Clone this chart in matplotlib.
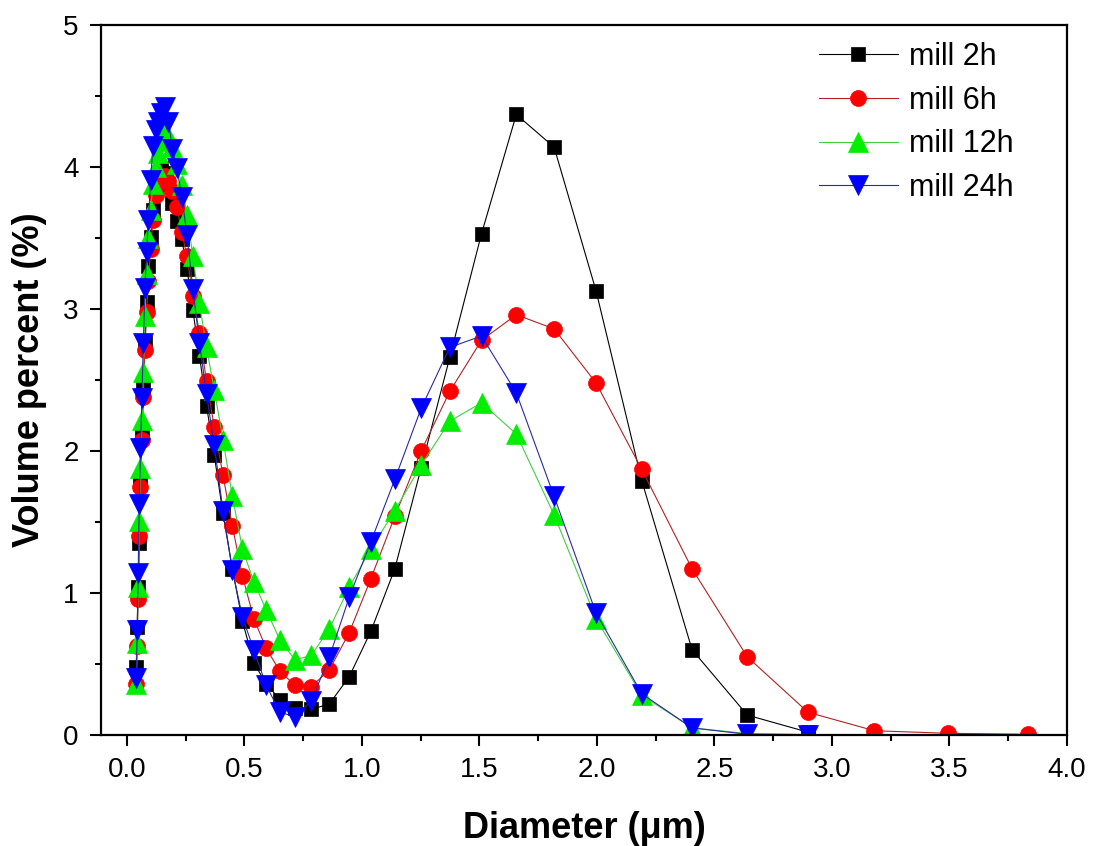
import matplotlib
matplotlib.use("Agg")
import matplotlib.pyplot as plt
from matplotlib.ticker import MultipleLocator

plt.rcParams['font.family'] = ['Liberation Sans', 'DejaVu Sans']

# Particle diameters (um), common grid of the size analyser
diameter = [0.040, 0.044, 0.048, 0.053, 0.058, 0.064, 0.070, 0.077, 0.084, 0.092,
            0.101, 0.111, 0.122, 0.134, 0.147, 0.161, 0.177, 0.194, 0.213, 0.234,
            0.256, 0.281, 0.309, 0.339, 0.372, 0.409, 0.449, 0.492, 0.540, 0.593,
            0.651, 0.715, 0.785, 0.862, 0.946, 1.038, 1.140, 1.252, 1.374, 1.509,
            1.657, 1.818, 1.996, 2.191, 2.405, 2.640, 2.898, 3.181, 3.492, 3.834]

mill_2h = [0.48, 0.76, 1.04, 1.35, 1.77, 2.12, 2.45, 2.76, 3.05, 3.30,
           3.51, 3.70, 3.85, 3.95, 3.99, 3.96, 3.88, 3.75, 3.62, 3.49,
           3.28, 2.99, 2.67, 2.32, 1.97, 1.56, 1.17, 0.80, 0.51, 0.36,
           0.25, 0.19, 0.18, 0.22, 0.41, 0.73, 1.17, 1.88, 2.66, 3.53,
           4.37, 4.14, 3.13, 1.79, 0.60, 0.14, 0.02]

mill_6h = [0.36, 0.63, 0.96, 1.40, 1.75, 2.08, 2.38, 2.71, 2.98, 3.20,
           3.42, 3.63, 3.80, 3.89, 3.93, 3.94, 3.90, 3.83, 3.72, 3.54,
           3.37, 3.09, 2.83, 2.49, 2.17, 1.83, 1.47, 1.12, 0.82, 0.61,
           0.45, 0.35, 0.34, 0.46, 0.72, 1.10, 1.54, 2.00, 2.42, 2.78,
           2.96, 2.86, 2.48, 1.87, 1.17, 0.55, 0.16, 0.03, 0.012, 0.005]

mill_12h = [0.36, 0.65, 1.04, 1.51, 1.88, 2.22, 2.56, 2.95, 3.25, 3.50,
            3.70, 3.88, 4.00, 4.10, 4.18, 4.24, 4.22, 4.14, 4.02, 3.87,
            3.66, 3.37, 3.04, 2.73, 2.43, 2.08, 1.68, 1.31, 1.08, 0.88,
            0.67, 0.53, 0.56, 0.75, 1.04, 1.31, 1.58, 1.90, 2.21, 2.34,
            2.12, 1.55, 0.82, 0.28, 0.05, 0.01, 0.003]

mill_24h = [0.40, 0.74, 1.14, 1.63, 2.02, 2.37, 2.76, 3.15, 3.40, 3.63,
            3.91, 4.15, 4.26, 4.32, 4.38, 4.42, 4.32, 4.13, 3.99, 3.79,
            3.52, 3.14, 2.76, 2.40, 2.04, 1.58, 1.16, 0.83, 0.60, 0.35,
            0.16, 0.13, 0.24, 0.55, 0.97, 1.36, 1.80, 2.30, 2.73, 2.81,
            2.41, 1.68, 0.86, 0.29, 0.05, 0.005, 0.003]

labels = ['mill 2h', 'mill 6h', 'mill 12h', 'mill 24h']

fig = plt.figure(figsize=(10.93, 8.46), dpi=100)
ax = fig.add_axes([0.0924, 0.1312, 0.8838, 0.8392])

styles = [
    dict(marker='s', color='#000000', mfc='#000000', ms=10.5),
    dict(marker='o', color='#b22222', mfc='#ff0000', ms=11.5),
    dict(marker='^', color='#44cc44', mfc='#00ee00', ms=14),
    dict(marker='v', color='#2a2aa0', mfc='#0000ff', ms=14),
]
series = [mill_2h, mill_6h, mill_12h, mill_24h]
for ys, lab, st in zip(series, labels, styles):
    ax.plot(diameter[:len(ys)], ys, linestyle='-', linewidth=0.8,
            color=st['color'], marker=st['marker'], markersize=st['ms'],
            markerfacecolor=st['mfc'], markeredgecolor=st['mfc'],
            markeredgewidth=0.5, label=lab)

ax.set_xlim(-0.11, 4.0)
ax.set_ylim(0, 5)
ax.xaxis.set_major_locator(MultipleLocator(0.5))
ax.xaxis.set_minor_locator(MultipleLocator(0.25))
ax.yaxis.set_major_locator(MultipleLocator(1))
ax.yaxis.set_minor_locator(MultipleLocator(0.5))
ax.set_xticks([0.0, 0.5, 1.0, 1.5, 2.0, 2.5, 3.0, 3.5, 4.0])
ax.set_xticklabels(['0.0', '0.5', '1.0', '1.5', '2.0', '2.5', '3.0', '3.5', '4.0'])
ax.tick_params(which='major', direction='out', length=8, width=1.5,
               labelsize=20, pad=8, top=False, right=False)
ax.tick_params(which='minor', direction='out', length=4, width=1.5,
               top=False, right=False)
for sp in ax.spines.values():
    sp.set_linewidth(1.6)

ax.set_xlabel('Diameter (\u03bcm)', fontsize=26, fontweight='bold', labelpad=20)
ax.set_ylabel('Volume percent (%)', fontsize=26, fontweight='bold', labelpad=12)

leg = ax.legend(loc='upper right', bbox_to_anchor=(0.962, 1.0), frameon=False,
                fontsize=22, handlelength=2.6, labelspacing=0.45,
                handletextpad=0.35, borderaxespad=0.15)

fig.savefig('out.png', dpi=100)
